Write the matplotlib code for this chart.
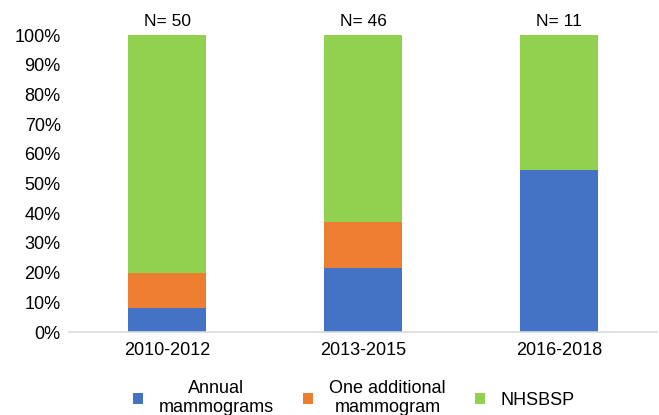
import matplotlib
matplotlib.use("Agg")
import matplotlib.pyplot as plt
import numpy as np
from matplotlib.patches import Patch

plt.rcParams['font.family'] = ['Liberation Sans', 'DejaVu Sans']

categories = ["2010-2012", "2013-2015", "2016-2018"]
n_labels = ["N= 50", "N= 46", "N= 11"]
annual = [8.0, 21.7, 54.5]
one_additional = [12.0, 15.2, 0.0]
nhsbsp = [80.0, 63.1, 45.5]
series_names = ["Annual\nmammograms", "One additional\nmammogram", "NHSBSP"]
colors = ["#4472C4", "#ED7D31", "#92D050"]

fig = plt.figure(figsize=(6.59, 4.15), dpi=100)
ax = fig.add_axes([69/659, 1-332/415, (657-69)/659, (332-35)/415])

x = np.arange(len(categories))
w = 0.4
bottom = np.zeros(len(categories))
for vals, c, name in zip([annual, one_additional, nhsbsp], colors, series_names):
    ax.bar(x, vals, w, bottom=bottom, color=c, label=name, edgecolor='none')
    bottom += np.array(vals)

for xi, lab, tot in zip(x, n_labels, bottom):
    ax.text(xi, tot + 2, lab, ha='center', va='bottom', fontsize=12.5)

ax.set_xlim(-0.5, len(categories) - 0.5)
ax.set_ylim(0, 100)
ax.set_yticks(np.arange(0, 101, 10))
ax.set_yticklabels([f"{v}%" for v in range(0, 101, 10)])
ax.set_xticks(x)
ax.set_xticklabels(categories)
ax.tick_params(axis='both', length=0, labelsize=13)
ax.tick_params(axis='y', pad=6)
ax.tick_params(axis='x', pad=7)
for s in ['top', 'right', 'left']:
    ax.spines[s].set_visible(False)
ax.spines['bottom'].set_color('#d9d9d9')
ax.spines['bottom'].set_linewidth(1.2)

handles = [Patch(facecolor=c, edgecolor='none') for c in colors]
leg = fig.legend(handles, series_names, loc='center', ncol=3,
                 bbox_to_anchor=(0.537, 0.04), frameon=False, fontsize=13,
                 handlelength=0.55, handleheight=0.55, handletextpad=0.9,
                 columnspacing=1.6, labelspacing=0.2)
for t in leg.get_texts():
    t.set_multialignment('center')
    t.set_linespacing(1.15)

fig.savefig("out.png", dpi=100)
